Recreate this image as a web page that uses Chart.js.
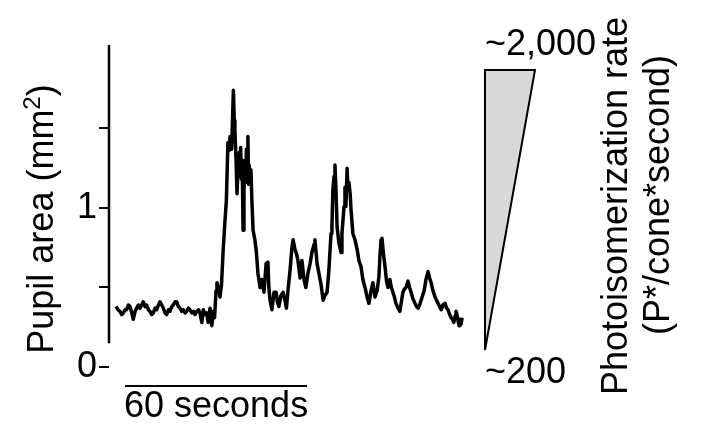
<!DOCTYPE html>
<html>
<head>
<meta charset="utf-8">
<script src="https://cdn.jsdelivr.net/npm/chart.js@4/dist/chart.umd.min.js"></script>
<style>
  html, body { margin: 0; padding: 0; background: #fff; }
  #wrap { width: 702px; height: 426px; }
</style>
</head>
<body>
<div id="wrap"><canvas id="c" width="702" height="426"></canvas></div>
<script>
// Pupil-area trace (seconds, mm^2)
const timeSec = [
  0, 0.7, 1.3, 1.9, 2.4, 3.0, 3.5, 4.1, 4.6, 5.2, 5.7, 6.3, 6.8, 7.4, 7.9, 8.5, 9.0, 9.6,
  10.1, 10.7, 11.2, 11.8, 12.3, 12.9, 13.4, 14.0, 14.5, 15.1, 15.6, 16.2, 16.7, 17.3,
  17.8, 18.4, 18.9, 19.5, 20.0, 20.6, 21.1, 21.7, 22.2, 22.8, 23.3, 23.9, 24.4, 25.0,
  25.5, 26.1, 26.6, 27.2, 27.7, 28.3, 28.8, 29.4, 29.9, 30.4,
  31.0, 31.6, 32.1, 32.5, 33.0, 33.3, 34.0, 34.3, 34.8, 35.3, 35.9, 36.4, 36.9, 37.3, 37.6, 38.1,
  38.3, 38.7, 39.0, 39.2, 39.6, 39.9, 40.2, 40.4, 40.7, 40.9, 41.1, 41.4, 41.6, 41.9, 42.2, 42.5,
  42.8, 43.0, 43.3, 43.5, 43.7, 43.9, 44.2, 44.5, 44.8, 45.2, 45.8, 46.3, 46.8, 47.5, 48.1, 48.8,
  49.5, 50.1, 50.4, 50.8, 51.4, 52.1, 52.8, 53.2, 53.7, 54.4, 55.1, 55.7, 56.2, 56.7, 57.4, 58.0,
  58.4, 59.0, 59.4, 60.0, 60.7, 61.3, 62.0, 62.6, 63.3, 64.0, 64.6, 65.3, 65.6, 66.3, 66.9, 67.6,
  68.3, 68.9, 69.6, 70.2, 70.9, 71.2, 71.5, 71.9, 72.2, 72.5, 72.9, 73.5, 74.2, 74.5, 75.2,
  75.5, 75.8, 76.2, 76.5, 76.8, 77.2, 77.5, 78.1, 78.8, 79.5, 80.1, 80.8, 81.4, 82.1, 82.8,
  83.4, 84.1, 84.7, 85.4, 86.1, 86.7, 87.0, 87.4, 87.7, 88.2, 88.7, 89.2, 89.7, 90.3, 90.8, 91.3,
  91.8, 92.3, 93.0, 93.6, 94.1, 94.6, 95.1, 95.6, 96.3, 96.8, 97.3, 97.9, 98.6, 99.1, 99.6, 100.1,
  100.6, 101.1, 101.6, 102.2, 102.9, 103.4, 103.9, 104.5, 105.2, 105.7, 106.2, 106.7, 107.2,
  107.8, 108.5, 109.0, 109.5, 110.0, 110.5, 111.0, 111.4, 111.8, 112.1, 112.4, 112.8, 113.1,
  113.4, 113.8, 114.1
];
const pupilArea = [
  0.38, 0.36, 0.35, 0.33, 0.34, 0.36, 0.36, 0.39, 0.38, 0.34, 0.30, 0.35, 0.37, 0.39, 0.37, 0.39,
  0.41, 0.38, 0.39, 0.36, 0.35, 0.33, 0.34, 0.37, 0.36, 0.39, 0.41, 0.39, 0.37, 0.34, 0.33, 0.36,
  0.35, 0.38, 0.39, 0.41, 0.41, 0.38, 0.37, 0.35, 0.36, 0.34, 0.35, 0.37, 0.36, 0.34,
  0.35, 0.33, 0.35, 0.36, 0.34, 0.28, 0.36, 0.33, 0.34, 0.28,
  0.37, 0.26, 0.35, 0.31, 0.48, 0.53, 0.48, 0.44, 0.52, 0.72, 0.91, 1.05, 1.41, 1.36, 1.45, 1.37,
  1.47, 1.74, 1.55, 1.49, 1.30, 1.09, 1.22, 1.27, 1.35, 1.20, 1.38, 1.18, 1.30, 0.86, 1.11, 1.30,
  1.16, 1.37, 1.22, 1.45, 1.15, 1.27, 1.18, 1.24, 1.05, 0.86, 0.80, 0.72, 0.59, 0.50, 0.55, 0.47,
  0.65, 0.66, 0.50, 0.42, 0.36, 0.47, 0.47, 0.41, 0.38, 0.45, 0.47, 0.42, 0.37, 0.48, 0.61, 0.75,
  0.80, 0.74, 0.72, 0.67, 0.56, 0.67, 0.55, 0.50, 0.59, 0.65, 0.72, 0.77, 0.80, 0.65, 0.59, 0.52,
  0.42, 0.45, 0.47, 0.61, 0.84, 0.88, 1.11, 1.20, 1.27, 1.13, 0.88, 0.78, 0.72, 0.84, 1.01,
  1.13, 1.01, 1.25, 1.12, 1.16, 1.09, 0.99, 0.84, 0.80, 0.74, 0.67, 0.63, 0.55, 0.50, 0.44,
  0.40, 0.48, 0.53, 0.44, 0.48, 0.57, 0.69, 0.80, 0.81, 0.71, 0.63, 0.54, 0.50, 0.55, 0.50, 0.47,
  0.44, 0.40, 0.37, 0.35, 0.41, 0.47, 0.49, 0.50, 0.54, 0.50, 0.47, 0.43, 0.40, 0.38, 0.37, 0.39,
  0.42, 0.45, 0.48, 0.55, 0.60, 0.56, 0.53, 0.48, 0.44, 0.42, 0.40, 0.38, 0.36,
  0.39, 0.40, 0.37, 0.36, 0.33, 0.31, 0.30, 0.28, 0.32, 0.35, 0.33, 0.29, 0.26,
  0.30, 0.27, 0.31
];

// Y axis
const yTickValues = [0, 0.5, 1, 1.5];
const yTickLabels = ['0', '', '1', ''];
const yAxisTitle = ['Pupil area (mm', '2', ')'];
const yAxisLineFrom = 0.15;
const yMax = 2.025;

// Time scale bar
const scaleBarStart = 3;
const scaleBarSeconds = 60;
const scaleBarLabel = '60 seconds';

// Light-intensity ramp
const rampLabels = ['~2,000', '~200'];
const rampTitle = ['Photoisomerization rate', '(P*/cone*second)'];

const FONT = '"Liberation Sans", Arial, Helvetica, sans-serif';

const decorations = {
  id: 'decorations',
  afterDraw(chart) {
    const ctx = chart.ctx;
    const xs = chart.scales.x, ys = chart.scales.y;
    const area = chart.chartArea;
    ctx.save();
    ctx.strokeStyle = '#000';
    ctx.fillStyle = '#000';
    ctx.lineCap = 'butt';

    // broken y-axis line
    ctx.lineWidth = 2.5;
    ctx.beginPath();
    ctx.moveTo(area.left, ys.getPixelForValue(yAxisLineFrom));
    ctx.lineTo(area.left, ys.getPixelForValue(yMax));
    ctx.stroke();

    // y-axis title with superscript
    const big = '36px ' + FONT, small = '24px ' + FONT;
    ctx.font = big;
    const w0 = ctx.measureText(yAxisTitle[0]).width;
    const w2 = ctx.measureText(yAxisTitle[2]).width;
    ctx.font = small;
    const w1 = ctx.measureText(yAxisTitle[1]).width;
    const total = w0 + w1 + w2;
    ctx.save();
    ctx.translate(53, 219);
    ctx.rotate(-Math.PI / 2);
    ctx.textAlign = 'left';
    ctx.textBaseline = 'alphabetic';
    let px = -total / 2;
    ctx.font = big;
    ctx.fillText(yAxisTitle[0], px, 0);
    px += w0;
    ctx.font = small;
    ctx.fillText(yAxisTitle[1], px, -13);
    px += w1;
    ctx.font = big;
    ctx.fillText(yAxisTitle[2], px, 0);
    ctx.restore();

    // time scale bar
    ctx.font = big;
    const x0 = xs.getPixelForValue(scaleBarStart);
    const x1 = xs.getPixelForValue(scaleBarStart + scaleBarSeconds);
    const yb = area.bottom + 19;
    ctx.lineWidth = 2;
    ctx.beginPath();
    ctx.moveTo(x0, yb);
    ctx.lineTo(x1, yb);
    ctx.stroke();
    ctx.textAlign = 'center';
    ctx.textBaseline = 'alphabetic';
    ctx.fillText(scaleBarLabel, (x0 + x1) / 2, 417);

    // intensity ramp wedge
    ctx.beginPath();
    ctx.moveTo(485, 70);
    ctx.lineTo(535, 70);
    ctx.lineTo(485, 350);
    ctx.closePath();
    ctx.fillStyle = '#d9d9d9';
    ctx.fill();
    ctx.lineWidth = 2;
    ctx.lineJoin = 'miter';
    ctx.stroke();

    ctx.fillStyle = '#000';
    ctx.textAlign = 'left';
    ctx.fillText(rampLabels[0], 485, 55);
    ctx.fillText(rampLabels[1], 485, 383);

    ctx.textAlign = 'center';
    ctx.save();
    ctx.translate(627, 206);
    ctx.rotate(-Math.PI / 2);
    ctx.fillText(rampTitle[0], 0, 0);
    ctx.restore();
    ctx.save();
    ctx.translate(669, 195);
    ctx.rotate(-Math.PI / 2);
    ctx.fillText(rampTitle[1], 0, 0);
    ctx.restore();

    ctx.restore();
  }
};

new Chart(document.getElementById('c'), {
  type: 'line',
  data: {
    datasets: [{
      data: timeSec.map((t, i) => ({ x: t, y: pupilArea[i] })),
      borderColor: '#000',
      borderWidth: 3.5,
      borderJoinStyle: 'round',
      pointRadius: 0,
      tension: 0,
      fill: false
    }]
  },
  options: {
    responsive: false,
    animation: false,
    devicePixelRatio: 1,
    layout: { padding: { left: 0, top: 45, right: 234, bottom: 59 } },
    plugins: { legend: { display: false }, tooltip: { enabled: false }, title: { display: false } },
    scales: {
      x: { type: 'linear', min: -2.3, max: 116.06, display: false },
      y: {
        type: 'linear',
        min: 0,
        max: yMax,
        afterBuildTicks: (scale) => { scale.ticks = yTickValues.map(v => ({ value: v })); },
        afterFit: (scale) => { scale.width = 109; },
        border: { display: false },
        grid: {
          display: true,
          drawOnChartArea: false,
          drawTicks: true,
          tickLength: 10,
          color: '#000',
          lineWidth: 2
        },
        ticks: {
          color: '#000',
          padding: 2,
          font: { family: FONT, size: 36 },
          callback: (v, i) => yTickLabels[i]
        }
      }
    }
  },
  plugins: [decorations]
});
</script>
</body>
</html>
